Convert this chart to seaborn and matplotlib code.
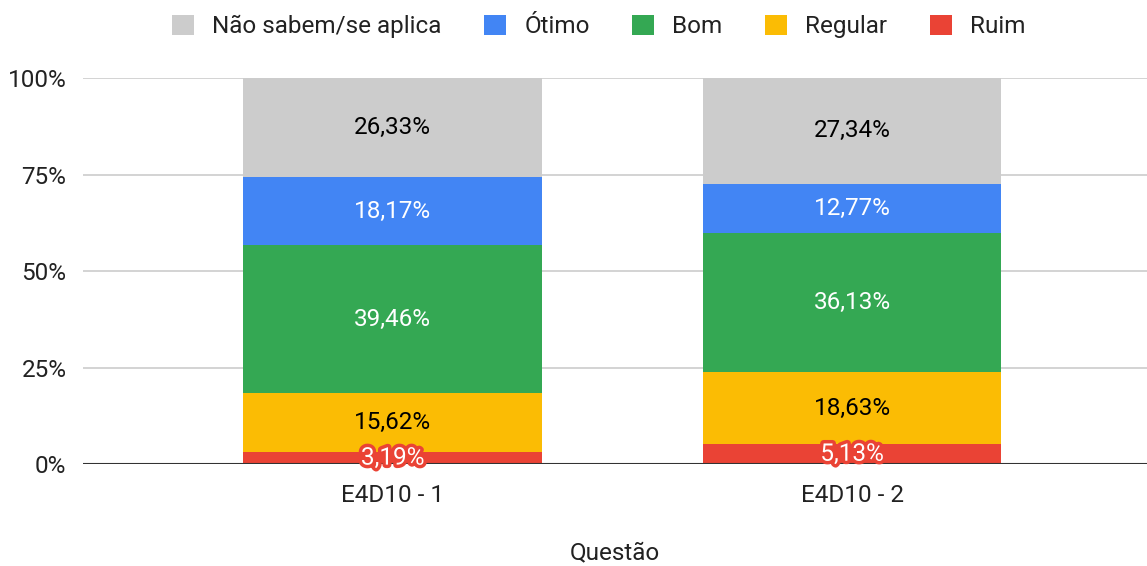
import numpy as np
import pandas as pd
import matplotlib
matplotlib.use('Agg')
import matplotlib.pyplot as plt
import matplotlib.patheffects as pe
from matplotlib.patches import Patch
import seaborn as sns

# data
questoes = ['E4D10 - 1', 'E4D10 - 2']
series = ['Ruim', 'Regular', 'Bom', 'Ótimo', 'Não sabem/se aplica']
ruim = [3.19, 5.13]
regular = [15.62, 18.63]
bom = [39.46, 36.13]
otimo = [18.17, 12.77]
nao_sabem = [26.33, 27.34]

colors = {'Ruim': '#ea4335', 'Regular': '#fbbc04', 'Bom': '#34a853',
          'Ótimo': '#4285f4', 'Não sabem/se aplica': '#cccccc'}
text_colors = {'Ruim': 'white', 'Regular': 'black', 'Bom': 'white',
               'Ótimo': 'white', 'Não sabem/se aplica': 'black'}

sns.set_style('white')
plt.rcParams['font.family'] = ['Roboto', 'DejaVu Sans']
FS = 17.5

df = pd.DataFrame({'Questão': questoes, 'Ruim': ruim, 'Regular': regular,
                   'Bom': bom, 'Ótimo': otimo, 'Não sabem/se aplica': nao_sabem})
totals = df[series].sum(axis=1)
shares = df[series].div(totals, axis=0)
cum = shares.cumsum(axis=1)

fig = plt.figure(figsize=(11.47, 5.66), dpi=100)
ax = fig.add_axes([0.0724, 0.180, 0.9276, 0.682])

# draw from top of stack down so each layer covers the one above it
for s in reversed(series):
    sns.barplot(x=df['Questão'], y=cum[s], color=colors[s], width=0.65,
                saturation=1, ax=ax, linewidth=0, zorder=2)

for i in range(len(questoes)):
    for s in series:
        top = cum.loc[i, s]
        mid = top - shares.loc[i, s] / 2
        label = f'{df.loc[i, s]:.2f}%'.replace('.', ',')
        t = ax.text(i, mid, label, ha='center', va='center', fontsize=FS,
                    color=text_colors[s], zorder=4)
        if s == 'Ruim':
            t.set_path_effects([pe.withStroke(linewidth=5, foreground=colors[s])])

ax.set_ylim(0, 1)
ax.set_xlim(-0.674, 1.642)
ax.set_yticks([0, 0.25, 0.5, 0.75, 1.0])
ax.set_yticklabels(['0%', '25%', '50%', '75%', '100%'])
ax.yaxis.grid(True, color='#cccccc', linewidth=1.2, zorder=0)
ax.set_axisbelow(True)
ax.axhline(0, color='#333333', linewidth=1.5, zorder=3)
for sp in ax.spines.values():
    sp.set_visible(False)
ax.tick_params(axis='both', length=0, labelsize=FS, colors='#222222')
ax.tick_params(axis='y', pad=12)
ax.tick_params(axis='x', pad=14)
ax.set_xlabel('Questão', fontsize=FS, color='#222222', labelpad=25)
ax.set_ylabel('')

order = ['Não sabem/se aplica', 'Ótimo', 'Bom', 'Regular', 'Ruim']
handles = [Patch(facecolor=colors[s], edgecolor='none', label=s) for s in order]
fig.legend(handles=handles, loc='upper center', bbox_to_anchor=(0.522, 1.013),
           ncol=5, frameon=False, fontsize=FS, handlelength=0.9, handleheight=0.9,
           handletextpad=0.75, columnspacing=1.75, labelcolor='#222222')

fig.savefig('out.png', dpi=100)
